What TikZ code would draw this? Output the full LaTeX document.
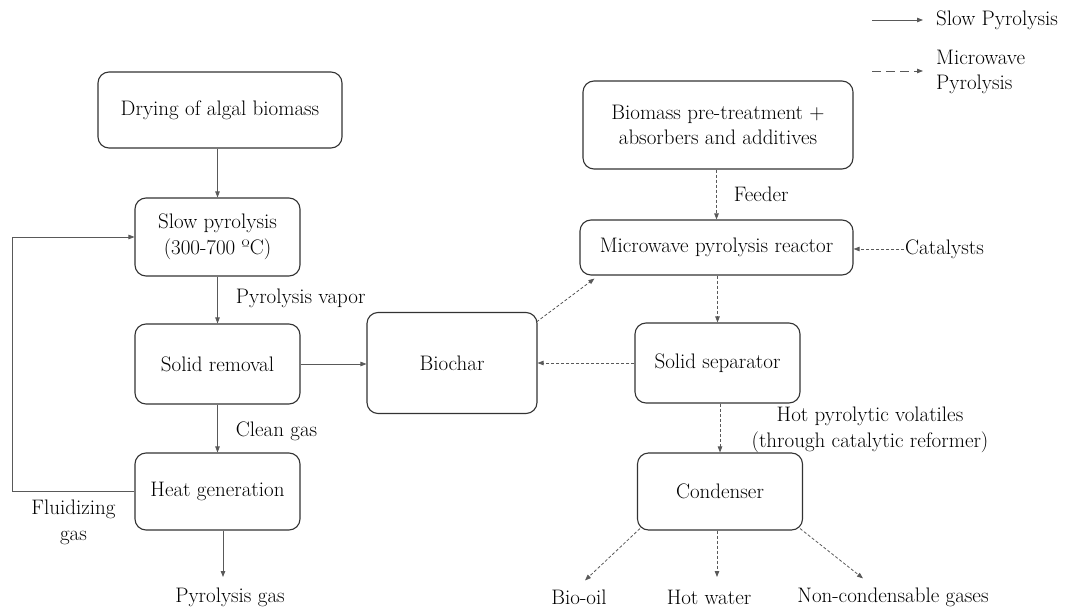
\documentclass[tikz,border=0pt]{standalone}
\usetikzlibrary{arrows.meta}
\tikzset{
  box/.style={draw=black!80,line width=1.1pt,rounded corners=11pt,align=center},
  lbl/.style={align=center,inner sep=1pt},
  sp/.style={draw=black!65,line width=0.8pt,-{Triangle[length=6pt,width=4.5pt]}},
  mp/.style={sp,dash pattern=on 3pt off 2pt},
}
\begin{document}
\begin{tikzpicture}[x=1pt,y=-1pt,font=\fontsize{21}{25.5}\selectfont]
\useasboundingbox (0,0) rectangle (1070,609);
% slow pyrolysis line
\node[box,minimum width=244,minimum height=76](v1)at(220,110){Drying of algal biomass};
\node[box,minimum width=165,minimum height=78](v2)at(217.5,237){Slow pyrolysis\\(300-700 ºC)};
\node[box,minimum width=165,minimum height=80](v3)at(217.5,364){Solid removal};
\node[box,minimum width=165,minimum height=77](v4)at(217.5,491.5){Heat generation};
\node[box,minimum width=170,minimum height=101](v5)at(452,363){Biochar};
\node[lbl](pg)at(230,597){Pyrolysis gas};
% microwave pyrolysis line
\node[box,minimum width=270,minimum height=88](m1)at(718,125){Biomass pre-treatment +\\absorbers and additives};
\node[box,minimum width=273,minimum height=55](m2)at(716.5,247.5){Microwave pyrolysis reactor};
\node[box,minimum width=165,minimum height=80](m3)at(717.5,363){Solid separator};
\node[box,minimum width=165,minimum height=77](m4)at(720,491.5){Condenser};
\node[lbl,anchor=west](cat)at(904,249){Catalysts};
\node[lbl](hv)at(870,430){Hot pyrolytic volatiles\\(through catalytic reformer)};
\node[lbl](bo)at(579,597){Bio-oil};
\node[lbl](hw)at(709,597){Hot water};
\node[lbl](nc)at(893,597){Non-condensable gases};
% legend
\coordinate(l1)at(872,20);
\coordinate(l2)at(872,71);
\node[lbl,anchor=west](t1)at(935,20){Slow Pyrolysis};
\node[lbl,anchor=west,align=left](t2)at(935,72){Microwave\\Pyrolysis};
\draw[sp](l1)--([xshift=-12pt]t1.west);
\draw[mp,dash pattern=on 9pt off 5pt](l2)--([xshift=-12pt]l2 -| t2.west);
% solid arrows
\draw[sp](v1.south -| v2.north)--(v2.north);
\draw[sp](v2)--node[lbl,anchor=west,xshift=17pt,yshift=2pt]{Pyrolysis vapor}(v3);
\draw[sp](v3)--node[lbl,anchor=west,xshift=17pt,yshift=-3pt]{Clean gas}(v4);
\draw[sp](v4.south -| 223,0)--(223,577);
\draw[sp](v3.east)--(v3.east -| v5.west);
\draw[sp](v4.west)--++(-122,0)node[lbl,xshift=61pt,yshift=-31pt]{Fluidizing\\gas}|-(v2.west);
% dashed arrows
\draw[mp](m1.south -| m2.north)--node[lbl,anchor=west,xshift=16pt]{Feeder}(m2.north);
\draw[mp](cat.west)--(cat.west -| m2.east);
\draw[mp]([xshift=-1pt,yshift=-10pt]v5.north east)--([xshift=15pt,yshift=-3pt]m2.south west);
\draw[mp](m2.south -| m3.north)--(m3.north);
\draw[mp](m3.west)--(v5.east |- m3.west);
\draw[mp](m3.south -| m4.north)--(m4.north);
\draw[mp]([xshift=3pt,yshift=2pt]m4.south west)--([xshift=6pt,yshift=8pt]bo.north);
\draw[mp](m4.south -| 717,0)--(717,577);
\draw[mp]([xshift=-3pt,yshift=2pt]m4.south east)--([xshift=-30pt,yshift=8pt]nc.north);
\end{tikzpicture}
\end{document}
